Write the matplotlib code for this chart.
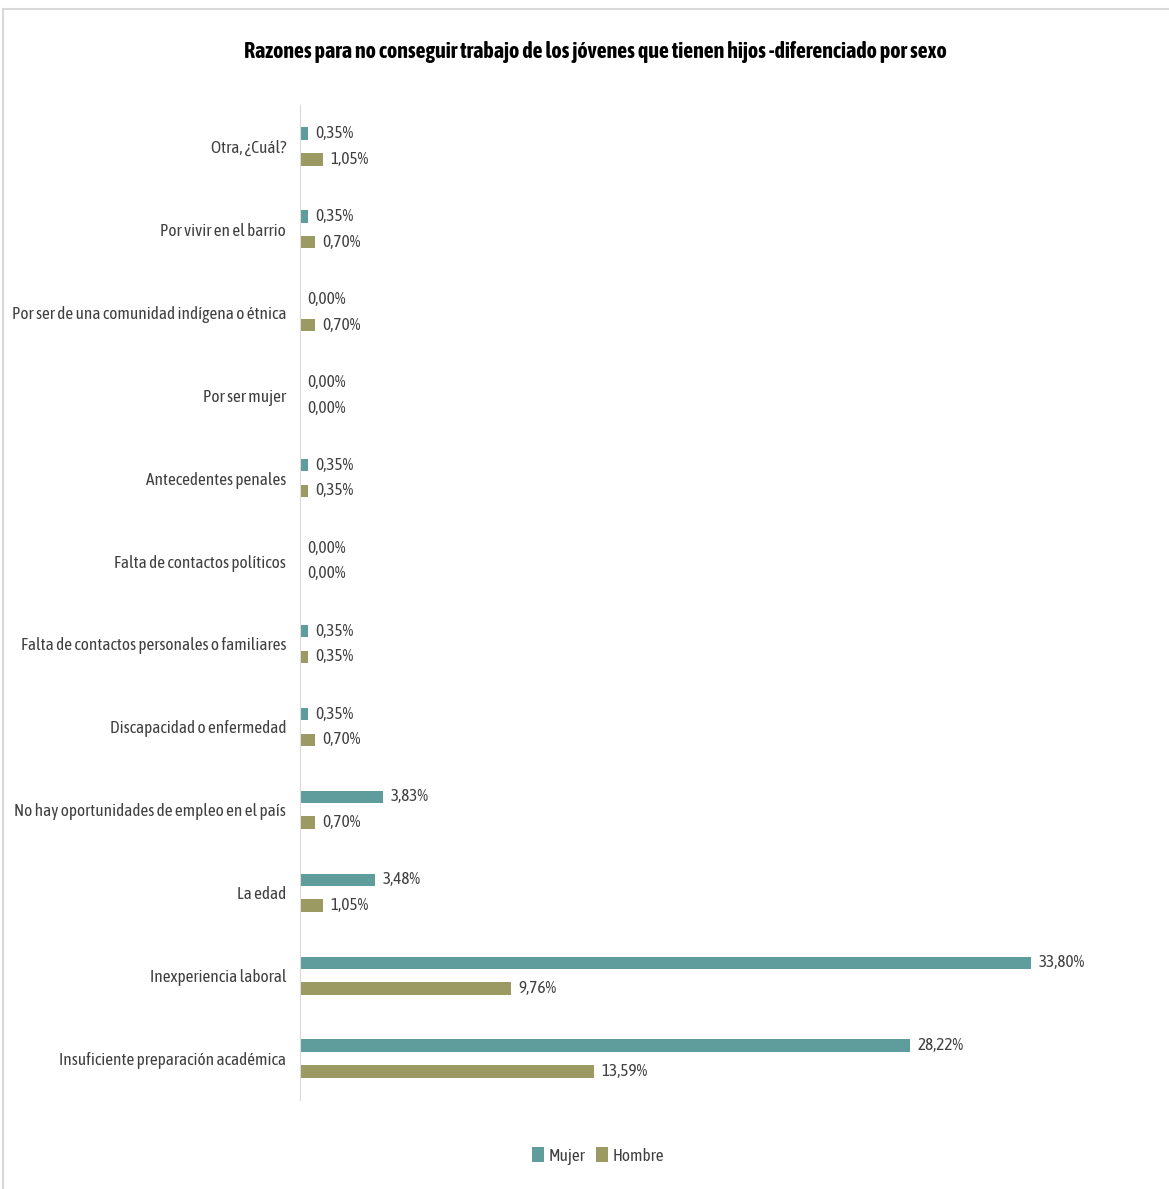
import matplotlib.pyplot as plt
from matplotlib import font_manager
from matplotlib import patheffects
from matplotlib.patches import Rectangle

# categorias de abajo hacia arriba
categorias = [
    "Insuficiente preparación académica",
    "Inexperiencia laboral",
    "La edad",
    "No hay oportunidades de empleo en el país",
    "Discapacidad o enfermedad",
    "Falta de contactos personales o familiares",
    "Falta de contactos políticos",
    "Antecedentes penales",
    "Por ser mujer",
    "Por ser de una comunidad indígena o étnica",
    "Por vivir en el barrio",
    "Otra, ¿Cuál?",
]
mujer = [28.22, 33.80, 3.48, 3.83, 0.35, 0.35, 0.00, 0.35, 0.00, 0.00, 0.35, 0.35]
hombre = [13.59, 9.76, 1.05, 0.70, 0.70, 0.35, 0.00, 0.35, 0.00, 0.70, 0.70, 1.05]

col_mujer = "#5f9c9c"
col_hombre = "#9b9a62"

# buscar una fuente estrecha si la hay (preferir una con negrita)
estrechas = [f for f in font_manager.fontManager.ttflist
             if "Narrow" in f.name or "Condensed" in f.name]
familia = "DejaVu Sans"
tiene_negrita = False
if estrechas:
    familia = estrechas[0].name
    for f in estrechas:
        if f.weight in ("bold", 700, "semibold", 600):
            familia = f.name
            tiene_negrita = True
            break
plt.rcParams["font.family"] = [familia, "DejaVu Sans"]

W, H = 1169, 1189
fig = plt.figure(figsize=(W / 100, H / 100), dpi=100)
fig.patches.append(Rectangle((3 / W, -0.1), 1.2, 1 - 9 / H + 0.1, transform=fig.transFigure,
                             fill=False, edgecolor="#d9d9d9", linewidth=1.5))

ax = fig.add_axes([300 / W, 1 - 1100 / H, 865 / W, 995 / H])
y = list(range(len(categorias)))
off = 0.155
alto = 0.15
ym = [v + off for v in y]
yh = [v - off for v in y]
ax.barh(ym, mujer, height=alto, color=col_mujer, label="Mujer")
ax.barh(yh, hombre, height=alto, color=col_hombre, label="Hombre")

etiquetas = []
for yy, v in zip(ym, mujer):
    etiquetas.append(ax.text(v + 0.35, yy, f"{v:.2f}%".replace(".", ","), va="center",
                             ha="left", fontsize=12, color="#404040"))
for yy, v in zip(yh, hombre):
    etiquetas.append(ax.text(v + 0.35, yy, f"{v:.2f}%".replace(".", ","), va="center",
                             ha="left", fontsize=12, color="#404040"))

ax.set_xlim(0, 40)
ax.set_ylim(-0.5, len(categorias) - 0.5)
ax.set_yticks(y)
ax.set_yticklabels(categorias, fontsize=12, color="#404040")
ax.tick_params(axis="y", length=0, pad=10)
ax.set_xticks([])
for s in ["top", "right", "bottom"]:
    ax.spines[s].set_visible(False)
ax.spines["left"].set_color("#d9d9d9")

titulo = fig.text(595 / W, 1 - 52 / H,
                  "Razones para no conseguir trabajo de los jóvenes que tienen hijos -diferenciado por sexo",
                  ha="center", va="center", fontsize=15, fontweight="bold", color="black")
if not tiene_negrita:
    titulo.set_path_effects([patheffects.withStroke(linewidth=0.9, foreground="black")])

# ajustar tamaños al ancho del original
r = fig.canvas.get_renderer()
larga = ax.get_yticklabels()[categorias.index("Por ser de una comunidad indígena o étnica")]
k = 273 / larga.get_window_extent(r).width
tam = min(12 * k, 15)
for t in ax.get_yticklabels():
    t.set_fontsize(tam)
for t in etiquetas:
    t.set_fontsize(tam)
kt = 707 / titulo.get_window_extent(r).width
titulo.set_fontsize(min(15 * kt, 19))

fig.legend(loc="center", bbox_to_anchor=(598 / W, 1 - 1156 / H), ncol=2, frameon=False,
           fontsize=tam, handlelength=0.7, handleheight=0.9, handletextpad=0.3,
           columnspacing=0.6, labelcolor="#404040")

fig.savefig("out.png", dpi=100)
